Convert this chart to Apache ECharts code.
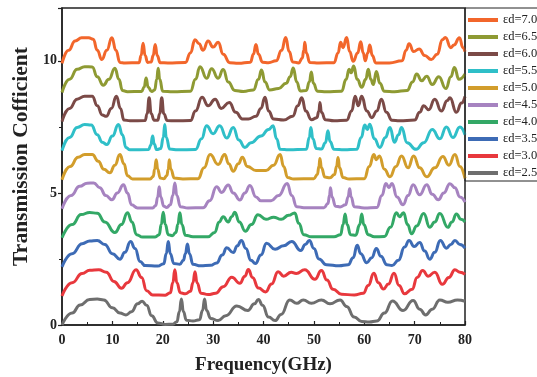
<!DOCTYPE html>
<html><head><meta charset="utf-8">
<script src="https://cdn.jsdelivr.net/npm/echarts@6/dist/echarts.min.js"></script>
<style>html,body{margin:0;padding:0;background:#fff}#c{width:537px;height:377px}</style>
</head><body><div id="c"></div>
<script>
// Series names (legend order: top to bottom)
const seriesNames = ['εd=7.0','εd=6.5','εd=6.0','εd=5.5','εd=5.0','εd=4.5','εd=4.0','εd=3.5','εd=3.0','εd=2.5'];
const seriesColors = ['#f2662b','#8e9a33','#7b4a47','#2fbfc8','#d29d2b','#a683c0','#33a866','#3d6bb5','#e8383d','#6e6e6e'];
// vertical offsets for each curve (stacked display)
const offsets = [9.9, 8.8, 7.7, 6.6, 5.5, 4.4, 3.3, 2.2, 1.1, 0];
const xTicks = [0,10,20,30,40,50,60,70,80];
const yTicks = [0,5,10];

// transmission values [frequency GHz, T]
const t70 = [[0,0],[1.3,0.5],[2.6,0.85],[3.9,0.97],[5.3,0.97],[6.2,0.92],[7,0.5],[7.9,0.15],[8.9,0.5],[9.9,0.97],[10.7,0.5],[11.5,0.04],[12.5,0.02],[15.3,0.03],[15.7,0.3],[16.1,0.77],[16.5,0.3],[17,0.04],[17.7,0.06],[18.1,0.3],[18.5,0.72],[18.9,0.3],[19.5,0.03],[21,0.02],[24.5,0.04],[25.5,0.4],[26.4,0.9],[27.2,0.75],[28,0.5],[29,0.85],[30,0.62],[31,0.8],[32,0.35],[33.3,0.03],[35,0.01],[37.4,0.05],[38,0.35],[38.5,0.72],[39,0.35],[39.8,0.05],[41,0.03],[42.5,0.1],[43.6,0.5],[44.4,0.98],[45.1,0.45],[45.8,0.06],[47,0.02],[47.7,0.2],[48,0.5],[48.2,0.8],[48.5,0.4],[49.2,0.04],[51,0.02],[54,0.03],[54.8,0.4],[55.3,0.8],[55.8,0.6],[56.5,0.98],[57.1,0.45],[57.8,0.08],[58.7,0.4],[59.3,0.82],[59.8,0.4],[60.2,0.1],[60.7,0.4],[61.1,0.7],[61.6,0.3],[62.3,0.02],[65,0.02],[67.5,0.1],[68.3,0.5],[68.9,0.75],[69.8,0.45],[70.9,0.55],[72,0.3],[73.3,0.15],[74.5,0.35],[75.5,0.9],[76.1,0.98],[77.2,0.6],[77.8,0.7],[78.9,0.97],[79.6,0.6],[80,0.45]];
const t65 = [[0,0],[1.5,0.5],[3,0.88],[4.5,0.98],[6,0.97],[7,0.6],[8.2,0.28],[9.3,0.5],[10.5,0.92],[11.3,0.5],[12,0.08],[13,0.03],[15.8,0.04],[16.3,0.2],[16.7,0.55],[17.1,0.2],[17.8,0.04],[18.4,0.1],[18.8,0.5],[19.1,0.92],[19.4,0.5],[20,0.05],[22,0.03],[25.5,0.05],[26.5,0.5],[27.4,0.98],[28.7,0.54],[29.7,0.9],[31,0.54],[32,0.87],[33,0.4],[34.3,0.08],[36,0.04],[38,0.1],[39,0.5],[39.6,0.85],[40.3,0.4],[41.2,0.1],[43,0.15],[44.5,0.35],[45.3,0.6],[45.9,0.93],[46.6,0.4],[47.3,0.06],[48.5,0.08],[49.1,0.4],[49.5,0.78],[49.9,0.35],[50.7,0.05],[52.5,0.03],[55.5,0.05],[56.4,0.5],[57,0.88],[57.4,0.75],[57.9,1.0],[58.6,0.5],[59.5,0.2],[60.3,0.5],[60.8,0.88],[61.3,0.5],[61.8,0.3],[62.4,0.8],[63.1,0.35],[64,0.05],[66,0.03],[68.5,0.08],[69.6,0.4],[70.4,0.7],[71.4,0.45],[72.4,0.62],[73.5,0.3],[74.8,0.6],[76.2,0.15],[77.2,0.6],[77.9,0.95],[78.8,0.5],[80,0.7]];
const t60 = [[0,0],[1.5,0.5],[3,0.85],[4.5,0.96],[6,0.96],[7,0.6],[8,0.25],[8.8,0.2],[9.8,0.5],[10.8,0.96],[11.6,0.5],[12.3,0.06],[13.5,0.03],[16.5,0.04],[16.9,0.3],[17.3,0.9],[17.7,0.3],[18.3,0.05],[19,0.05],[19.4,0.3],[19.8,0.9],[20.2,0.3],[20.9,0.04],[22.5,0.03],[25.5,0.04],[26.5,0.4],[27.8,0.92],[29,0.6],[30.4,0.85],[31.6,0.5],[33.2,0.72],[34.5,0.35],[35.8,0.1],[37,0.1],[38.5,0.2],[39.5,0.5],[40.3,0.92],[41,0.4],[42,0.1],[44,0.06],[45.8,0.2],[46.8,0.6],[47.6,0.9],[48.4,0.4],[49.5,0.07],[50.6,0.15],[51,0.4],[51.2,0.72],[51.5,0.35],[52.3,0.07],[54,0.03],[56.5,0.05],[57.5,0.4],[58.2,0.96],[58.8,0.6],[59.5,0.96],[60.5,0.4],[61.5,0.15],[62.5,0.4],[63.4,0.85],[64.4,0.35],[65.5,0.05],[67,0.03],[70,0.06],[71,0.35],[71.8,0.6],[72.8,0.45],[74,0.85],[75.3,0.4],[76.5,0.8],[77,0.9],[78.3,0.35],[79.3,0.7],[80,0.95]];
const t55 = [[0,0],[1.5,0.5],[3,0.88],[4.5,0.99],[5.8,0.97],[7,0.6],[8,0.32],[8.9,0.23],[10,0.55],[11.2,0.99],[12,0.6],[12.7,0.12],[13.5,0.03],[17.2,0.04],[17.6,0.2],[18,0.55],[18.3,0.25],[18.8,0.04],[19.6,0.08],[20.1,0.5],[20.4,0.99],[20.7,0.5],[21.4,0.06],[23,0.03],[26.5,0.04],[27.7,0.45],[28.7,0.94],[30,0.64],[31.3,0.94],[32.7,0.48],[34,0.88],[35.1,0.4],[36.3,0.12],[37.5,0.3],[39.5,0.55],[41,0.8],[41.9,0.94],[42.6,0.45],[43.3,0.05],[45,0.03],[48.5,0.05],[49.1,0.5],[49.4,0.88],[49.8,0.45],[50.5,0.08],[51.5,0.06],[52.3,0.3],[52.8,0.75],[53.2,0.35],[54,0.05],[56,0.03],[58.5,0.05],[59.4,0.5],[60.1,0.97],[60.6,0.8],[61.1,1.0],[62,0.45],[63.1,0.12],[64.2,0.5],[65.1,0.88],[66,0.32],[66.8,0.6],[67.4,0.88],[68.5,0.3],[70.3,0.05],[71.8,0.3],[73.5,0.8],[75,0.45],[76.3,0.9],[77.6,0.5],[79,0.9],[80,0.6]];
const t50 = [[0,0],[1.6,0.5],[3.2,0.85],[4.5,0.95],[6,0.95],[7.2,0.7],[8.3,0.4],[9.5,0.26],[10.5,0.55],[11.5,0.95],[12.3,0.6],[13,0.15],[14,0.03],[17.5,0.03],[18.1,0.12],[18.4,0.4],[18.7,0.76],[19,0.4],[19.5,0.06],[20.2,0.04],[20.8,0.15],[21.1,0.4],[21.3,0.76],[21.6,0.4],[22.3,0.06],[24,0.03],[27,0.04],[28.2,0.45],[29.4,0.95],[31,0.58],[32.3,0.95],[33.1,0.6],[34,0.32],[35,0.6],[35.8,0.85],[36.8,0.5],[38.5,0.35],[40.5,0.35],[42,0.55],[43.3,0.95],[44,0.5],[44.8,0.08],[46,0.03],[50,0.04],[50.7,0.2],[51,0.5],[51.2,0.8],[51.5,0.45],[52.2,0.1],[53.2,0.07],[54.1,0.2],[54.5,0.5],[54.8,0.84],[55.1,0.45],[55.8,0.08],[57,0.03],[60,0.04],[61,0.5],[61.9,0.95],[62.4,0.76],[63,0.9],[64,0.4],[65.1,0.11],[66.3,0.5],[67.4,0.9],[68.7,0.45],[69.8,0.9],[71,0.45],[72.4,0.11],[74,0.45],[75.6,0.88],[76.8,0.55],[78,0.95],[79,0.5],[80,0.05]];
const t45 = [[0,0],[1.8,0.5],[3.5,0.85],[5,0.97],[6.3,0.98],[7.5,0.8],[8.7,0.5],[9.9,0.34],[11,0.6],[12.2,0.91],[13,0.6],[13.8,0.15],[15,0.03],[18,0.03],[18.6,0.12],[19,0.45],[19.3,0.83],[19.6,0.45],[20.2,0.1],[20.8,0.05],[21.5,0.15],[22,0.5],[22.4,0.98],[22.8,0.5],[23.5,0.08],[25,0.03],[28,0.04],[29.3,0.3],[30.7,0.83],[31.7,0.62],[33,0.9],[34,0.6],[35.3,0.33],[36.3,0.6],[37.3,0.88],[38.5,0.45],[39.5,0.3],[41.5,0.3],[43,0.5],[44.7,0.96],[45.6,0.5],[46.6,0.08],[48,0.04],[52,0.04],[52.8,0.2],[53.1,0.5],[53.3,0.8],[53.6,0.45],[54.3,0.1],[55.2,0.07],[56.3,0.15],[56.8,0.45],[57.1,0.76],[57.4,0.45],[58,0.08],[60,0.03],[62.5,0.05],[63.5,0.5],[64.3,0.96],[64.9,0.8],[65.5,0.96],[66.5,0.45],[67.7,0.15],[68.7,0.5],[69.7,0.91],[71,0.53],[72.4,0.91],[73.5,0.55],[74.7,0.34],[75.8,0.6],[77,0.95],[78,0.8],[79,0.45],[80,0.25]];
const t40 = [[0,0],[2,0.5],[3.8,0.88],[5.5,0.96],[7,0.93],[8.5,0.6],[10.5,0.2],[11.8,0.5],[13,0.95],[13.9,0.6],[14.8,0.12],[16,0.03],[18.5,0.03],[19.3,0.12],[19.7,0.5],[20.1,0.97],[20.5,0.5],[21.1,0.12],[21.9,0.08],[22.6,0.2],[23,0.5],[23.4,0.95],[23.8,0.5],[24.5,0.1],[26,0.04],[29,0.04],[30.3,0.2],[31.2,0.6],[32,0.8],[33,0.6],[33.7,0.8],[34.3,0.97],[35.2,0.6],[36.4,0.25],[37.6,0.5],[38.9,0.87],[40.5,0.7],[42,0.78],[43.5,0.7],[45,0.85],[46.2,0.94],[47,0.55],[48,0.12],[49.5,0.04],[54,0.04],[55.3,0.12],[55.8,0.5],[56.2,0.9],[56.6,0.5],[57.3,0.12],[58.3,0.1],[59.1,0.5],[59.5,0.9],[59.9,0.5],[60.8,0.12],[62,0.04],[64,0.05],[65.2,0.4],[66.4,0.95],[67,0.8],[67.8,0.95],[68.6,0.5],[69.4,0.15],[70.4,0.45],[71.8,0.92],[73,0.4],[74,0.6],[75,0.92],[76.6,0.4],[77.4,0.6],[78.3,0.9],[79.2,0.7],[80,0.6]];
const t35 = [[0,0],[2,0.5],[4,0.88],[5.5,0.98],[7,1.0],[8.5,0.85],[10,0.5],[11.5,0.29],[12.5,0.55],[13.6,0.96],[14.5,0.7],[15.5,0.2],[16.5,0.05],[19,0.03],[20.2,0.12],[20.7,0.5],[21.1,0.96],[21.5,0.5],[22.2,0.13],[23.4,0.1],[24.1,0.25],[24.5,0.5],[24.9,0.87],[25.3,0.5],[26,0.1],[27.5,0.04],[29.5,0.06],[30.7,0.15],[31.8,0.45],[32.7,0.72],[34,0.54],[34.8,0.8],[35.6,1.0],[36.5,0.7],[37.5,0.25],[38.4,0.13],[39.5,0.45],[40.6,0.89],[42.3,0.67],[44,0.8],[45.6,0.96],[47.4,0.62],[48.3,0.85],[49.1,1.0],[50,0.7],[51,0.3],[52.5,0.08],[55,0.04],[56.8,0.08],[57.8,0.35],[58.6,0.82],[59.3,0.5],[60.5,0.16],[61.5,0.35],[62.4,0.7],[63.3,0.4],[64.5,0.08],[65.5,0.05],[66.8,0.25],[68,0.75],[68.9,1.0],[69.9,0.77],[71,0.92],[72,0.6],[73,0.29],[74,0.55],[75.1,1.0],[76.3,0.71],[77.2,0.85],[78,1.0],[79,0.85],[80,0.71]];
const t30 = [[0,0],[2,0.5],[4,0.85],[5.5,0.97],[7.3,0.99],[8.8,0.9],[10.3,0.55],[11.8,0.29],[13,0.5],[14.7,0.99],[15.8,0.7],[16.8,0.2],[18,0.04],[20.5,0.03],[21.5,0.12],[22,0.5],[22.4,0.99],[22.8,0.5],[23.5,0.12],[24.5,0.08],[25.5,0.18],[26,0.5],[26.4,0.92],[26.8,0.5],[27.6,0.1],[29,0.05],[30.5,0.1],[32,0.35],[33.7,0.71],[35.3,0.48],[36.3,0.75],[37,1.0],[37.8,0.7],[39,0.3],[40.4,0.15],[41.6,0.45],[42.9,0.92],[44,0.75],[45.5,0.9],[46.5,0.85],[48.2,0.99],[50.2,0.63],[51.5,0.96],[52.6,0.6],[53.8,0.25],[55.5,0.06],[58,0.04],[59.8,0.1],[60.8,0.4],[61.9,0.86],[62.8,0.5],[63.8,0.26],[64.8,0.45],[65.9,0.86],[66.9,0.4],[68,0.08],[69.5,0.25],[70.5,0.7],[71.6,0.96],[72.7,0.75],[74,0.9],[75.5,0.44],[76.8,0.7],[78,0.99],[79,0.9],[80,0.82]];
const t25 = [[0,0],[2,0.45],[3.6,0.76],[5.5,0.97],[7,0.98],[8.3,0.95],[10,0.65],[11.5,0.45],[12.7,0.38],[13.8,0.5],[15,0.8],[15.9,0.9],[16.8,0.75],[17.8,0.35],[19,0.08],[20.5,0.02],[22,0.03],[22.8,0.12],[23.3,0.5],[23.7,0.98],[24.1,0.5],[24.7,0.18],[26,0.15],[27.3,0.2],[27.9,0.55],[28.3,0.98],[28.7,0.55],[29.5,0.25],[31,0.17],[32.5,0.35],[34.7,0.72],[36.9,0.55],[38.2,0.8],[39,0.97],[39.8,0.75],[41,0.3],[42.3,0.17],[43.5,0.4],[45.2,0.95],[46.6,0.82],[47.9,0.95],[49.5,0.82],[51.5,0.95],[53.2,0.8],[55.2,0.95],[56.5,0.7],[58,0.3],[59.5,0.13],[61,0.11],[62.5,0.15],[64,0.45],[65.6,0.91],[67.7,0.55],[69.7,0.93],[71,0.6],[72.2,0.38],[73.5,0.6],[75,0.95],[76.6,0.86],[78.5,0.95],[80,0.9]];

const seriesData = [t70,t65,t60,t55,t50,t45,t40,t35,t30,t25];
const serif = 'Liberation Serif, Times New Roman, serif';

const chart = echarts.init(document.getElementById('c'));
chart.setOption({
  animation: false,
  backgroundColor: '#fff',
  grid: {left: 62, right: 72, top: 8, bottom: 52, show: true, borderColor: '#222', borderWidth: 1.5,
    backgroundColor: 'transparent', containLabel: false, outerBoundsMode: 'none'},
  legend: {
    orient: 'vertical', left: 465, top: 8,
    data: seriesNames, icon: 'rect', itemWidth: 30, itemHeight: 4, itemGap: 3,
    padding: [5, 40, 1, 3], borderColor: '#222', borderWidth: 1,
    textStyle: {fontFamily: serif, fontSize: 12.5, color: '#222', lineHeight: 14}
  },
  xAxis: {
    type: 'value', min: 0, max: 80, interval: 10,
    name: 'Frequency(GHz)', nameLocation: 'middle', nameGap: 31,
    nameTextStyle: {fontFamily: serif, fontWeight: 'bold', fontSize: 19, color: '#222'},
    axisLine: {show: true, lineStyle: {color: '#222', width: 1.5}},
    axisTick: {show: true, inside: true, length: 4, lineStyle: {color: '#222', width: 1.2}},
    minorTick: {show: true, splitNumber: 2, length: 3, lineStyle: {color: '#222', width: 1}},
    splitLine: {show: false},
    axisLabel: {fontFamily: serif, fontWeight: 'bold', fontSize: 14, color: '#222', margin: 8,
      formatter: v => xTicks.includes(v) ? String(v) : ''}
  },
  yAxis: {
    type: 'value', min: 0, max: 12, interval: 5,
    name: 'Transmission Cofficient', nameLocation: 'middle', nameGap: 21,
    nameTextStyle: {fontFamily: serif, fontWeight: 'bold', fontSize: 21.5, color: '#222', padding: [0,0,0,20]},
    axisLine: {show: true, lineStyle: {color: '#222', width: 1.5}},
    axisTick: {show: true, inside: false, length: 4, lineStyle: {color: '#222', width: 1.2}},
    minorTick: {show: true, splitNumber: 2, length: 3, lineStyle: {color: '#222', width: 1}},
    splitLine: {show: false},
    axisLabel: {fontFamily: serif, fontWeight: 'bold', fontSize: 14, color: '#222', margin: 5,
      formatter: v => yTicks.includes(v) ? String(v) : ''}
  },
  series: seriesNames.map((name, i) => ({
    name, type: 'line', smooth: 0.5, smoothMonotone: 'x', showSymbol: false,
    lineStyle: {color: seriesColors[i], width: 3}, itemStyle: {color: seriesColors[i]},
    data: seriesData[i].map(p => [p[0], p[1] + offsets[i]])
  }))
});
</script></body></html>
